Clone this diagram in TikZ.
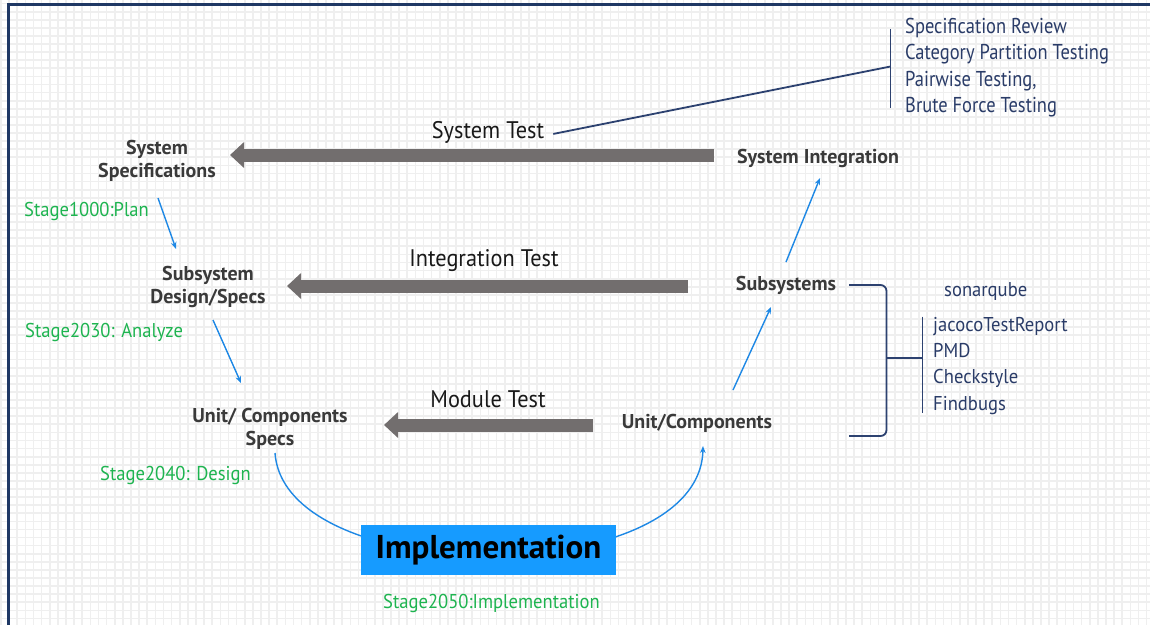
\documentclass[tikz,border=0pt]{standalone}
\usepackage{fontspec}
\setmainfont{PT Sans}
\newfontfamily\listfont[FakeStretch=0.86]{PT Sans}
\newfontfamily\labfont[FakeStretch=0.93]{PT Sans}
\usetikzlibrary{arrows.meta}
\definecolor{gridgray}{RGB}{239,239,239}
\definecolor{framenavy}{RGB}{31,56,100}
\definecolor{linknavy}{RGB}{45,66,112}
\definecolor{textnavy}{RGB}{42,60,104}
\definecolor{stagegreen}{RGB}{30,180,80}
\definecolor{flowblue}{RGB}{30,136,229}
\definecolor{testgray}{RGB}{114,110,110}
\definecolor{labelgray}{RGB}{58,58,58}
\definecolor{implblue}{RGB}{22,155,255}
\tikzset{
  x=1pt, y=-1pt,
  phase/.style={font=\bfseries\fontsize{20}{23}\selectfont, text=labelgray, align=center, inner sep=0pt, anchor=base},
  testname/.style={font=\labfont\fontsize{24}{28}\selectfont, text=black!90, inner sep=0pt, anchor=base},
  stage/.style={font=\labfont\fontsize{20}{24}\selectfont, text=stagegreen, inner sep=0pt, anchor=base west},
  tool/.style={font=\listfont\fontsize{21.5}{26.3}\selectfont, text=textnavy, inner sep=0pt, anchor=base west, align=left},
  bigarrow/.style={line width=13pt, draw=testgray, -{Triangle[width=25pt,length=14pt]}},
  flow/.style={draw=flowblue, line width=1.4pt, -{Stealth[length=7pt,width=5.5pt]}},
  link/.style={draw=linknavy, line width=1.8pt},
}
\begin{document}
\begin{tikzpicture}
% page and background grid
\useasboundingbox (0,0) rectangle (1150,625);
\fill[white] (0,0) rectangle (1150,625);
\foreach \i in {0,...,141} \draw[gridgray, line width=1.7pt] ({1+8.125*\i},0) -- ({1+8.125*\i},625);
\foreach \j in {0,...,76} \draw[gridgray, line width=1.7pt] (0,{3.6+8.09*\j}) -- (1150,{3.6+8.09*\j});
\draw[framenavy, line width=2.2pt] (8.5,625) -- (8.5,4.5) -- (1150,4.5);

% development phases (left) and verification phases (right);
% multi-line labels sit on the baseline of their last line
\node[phase] (sysspec) at (157,177) {System\\Specifications};
\node[phase] (subspec) at (208,303) {Subsystem\\Design/Specs};
\node[phase] (unitspec) at (270,445.5) {Unit/ Components\\Specs};
\node[phase] (sysint) at (818,163) {System Integration};
\node[phase] (subsys) at (786,290) {Subsystems};
\node[phase] (unitcomp) at (697,428) {Unit/Components};

% implementation box over the design-to-build curve
\draw[flow] (275,453) .. controls (285,590) and (700,590) .. (703,446);
\node[fill=implblue, minimum width=255pt, minimum height=50pt, inner sep=0pt,
      font=\bfseries\fontsize{33}{36}\selectfont, text=black] (impl) at (488.5,550) {Implementation};

% stage labels
\node[stage] (st1000) at (24,216.7) {Stage1000:Plan};
\node[stage] (st2030) at (25,337) {Stage2030: Analyze};
\node[stage] (st2040) at (100,480) {Stage2040: Design};
\node[stage] (st2050) at (383,608) {Stage2050:Implementation};

% downward and upward flow
\draw[flow] (158,198) -- (176,249);
\draw[flow] (213,320) -- (241,383);
\draw[flow] (733,390) -- (771,307);
\draw[flow] (786,262) -- (820,178);

% test arrows
\coordinate (st-tail) at (714,155);  \coordinate (st-tip) at (230,155);
\coordinate (it-tail) at (688,286);  \coordinate (it-tip) at (287,286);
\coordinate (mt-tail) at (593,425);  \coordinate (mt-tip) at (384,425);
\draw[bigarrow] (st-tail) -- (st-tip);
\draw[bigarrow] (it-tail) -- (it-tip);
\draw[bigarrow] (mt-tail) -- (mt-tip);
\node[testname] (systest) at (488,138) {System Test};
\node[testname] (inttest) at (484,266) {Integration Test};
\node[testname] (modtest) at (488,407) {Module Test};

% system test techniques
\coordinate (bar1top) at (890.5,29);
\coordinate (bar1mid) at (890.5,66.5);
\coordinate (bar1bot) at (890.5,108);
\draw[link] (bar1top) -- (bar1bot);
\draw[link] ([xshift=9pt,yshift=-2pt]systest.east) -- (bar1mid);
\node[tool] (techs) at (905,112.3) {Specification Review\\Category Partition Testing\\Pairwise Testing,\\Brute Force Testing};

% static analysis tools
\coordinate (brtop) at (849,285);
\coordinate (brbot) at (849,436);
\coordinate (brmid) at (886.5,358);
\coordinate (bar2top) at (922.5,316.5);
\coordinate (bar2bot) at (922.5,412.5);
\draw[link, rounded corners=6pt] (brtop) -- (886.5,285) -- (886.5,436) -- (brbot);
\draw[link] (brmid) -- (922.5,358);
\draw[link] (bar2top) -- (bar2bot);
\node[tool, font=\labfont\fontsize{20}{24}\selectfont] (sonar) at (944,296) {sonarqube};
\node[tool, font=\labfont\fontsize{20}{26.3}\selectfont] (tools) at (933,410) {jacocoTestReport\\PMD\\Checkstyle\\Findbugs};
\end{tikzpicture}
\end{document}
